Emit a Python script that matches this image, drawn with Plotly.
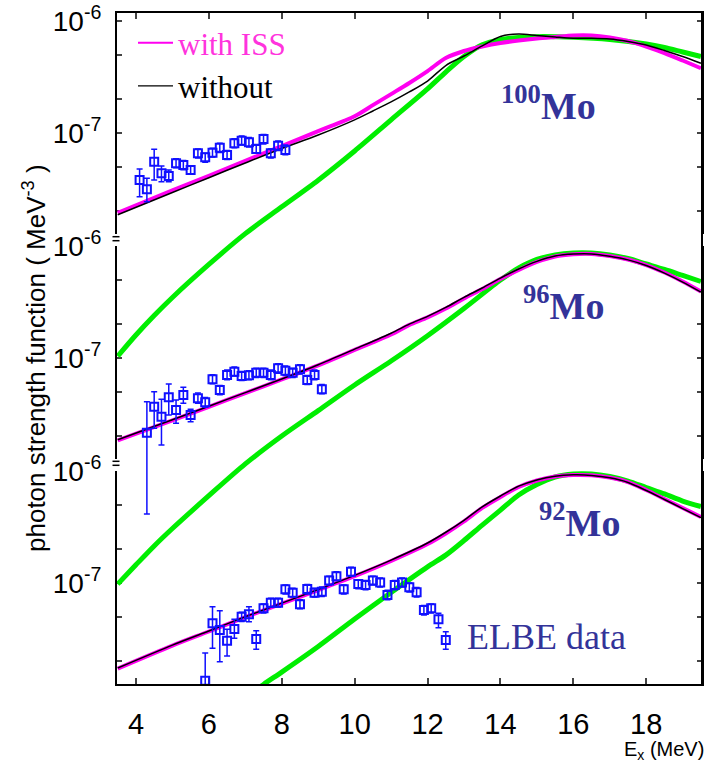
import plotly.graph_objects as go

# ------------------------------------------------------------------ data
# 100Mo (top panel)
E_curve_100 = [3.5, 5, 6, 7, 8, 9, 10, 10.5, 11, 11.5, 12, 12.5, 13, 13.5, 14, 14.5,
               15, 15.5, 16, 16.5, 17, 17.5, 18, 18.5, 19, 19.5]
S_iss_100 = [1.94e-8, 3.08e-8, 4.16e-8, 5.65e-8, 7.66e-8, 1.04e-7, 1.41e-7, 1.77e-7, 2.22e-7,
             2.79e-7, 3.56e-7, 4.65e-7, 5.37e-7, 5.89e-7, 6.33e-7, 6.66e-7, 6.94e-7, 7.16e-7,
             7.38e-7, 7.38e-7, 7.08e-7, 6.59e-7, 5.89e-7, 5.15e-7, 4.42e-7, 3.77e-7]
S_wo_100 = [1.87e-8, 2.95e-8, 4.0e-8, 5.41e-8, 7.28e-8, 9.6e-8, 1.31e-7, 1.57e-7, 1.89e-7,
            2.32e-7, 2.90e-7, 3.99e-7, 4.85e-7, 5.96e-7, 7.23e-7, 7.61e-7, 7.38e-7, 7.16e-7,
            6.97e-7, 6.97e-7, 6.87e-7, 6.53e-7, 6.08e-7, 5.43e-7, 4.80e-7, 4.18e-7]
E_green_100 = [3.5, 4, 4.5, 5, 6, 7, 8, 9, 10, 11, 12, 12.5, 13, 13.5, 14, 14.5, 15, 16, 17,
               18, 18.5, 19, 19.5]
S_green_100 = [1.03e-9, 1.59e-9, 2.37e-9, 3.43e-9, 6.75e-9, 1.27e-8, 2.20e-8, 3.80e-8, 6.92e-8,
               1.31e-7, 2.47e-7, 3.49e-7, 4.80e-7, 6.11e-7, 6.79e-7, 7.08e-7, 7.21e-7, 7.12e-7,
               6.81e-7, 6.21e-7, 5.77e-7, 5.26e-7, 4.80e-7]
E_data_100 = [4.1, 4.3, 4.5, 4.7, 4.9, 5.1, 5.3, 5.5, 5.7, 5.9, 6.1, 6.3, 6.5, 6.7, 6.9, 7.1,
              7.3, 7.5, 7.7, 7.9, 8.1]
S_data_100 = [3.81e-8, 3.15e-8, 5.55e-8, 4.38e-8, 4.14e-8, 5.37e-8, 5.19e-8, 4.68e-8, 6.59e-8,
              6.07e-8, 6.68e-8, 7.39e-8, 6.37e-8, 8.09e-8, 8.54e-8, 8.26e-8, 7.20e-8, 8.84e-8,
              6.59e-8, 7.70e-8, 7.06e-8]
S_hi_100 = [4.78e-8, 3.95e-8, 7.16e-8, 5.08e-8, 4.68e-8, 5.9e-8, 5.7e-8, 5.1e-8, 7.2e-8, 6.6e-8,
            7.3e-8, 8.1e-8, 7.0e-8, 8.9e-8, 9.4e-8, 9.1e-8, 7.9e-8, 9.7e-8, 7.2e-8, 8.5e-8, 7.8e-8]
S_lo_100 = [2.71e-8, 2.44e-8, 3.81e-8, 3.68e-8, 3.68e-8, 4.9e-8, 4.7e-8, 4.3e-8, 6.0e-8, 5.5e-8,
            6.1e-8, 6.7e-8, 5.8e-8, 7.4e-8, 7.8e-8, 7.5e-8, 6.6e-8, 8.0e-8, 6.0e-8, 7.0e-8, 6.4e-8]

# 96Mo (middle panel)
E_curve_96 = [3.5, 5, 6, 7, 8, 9, 10, 11, 11.5, 12, 12.5, 13, 13.5, 14, 14.5, 15, 15.5, 16,
              16.5, 17, 17.5, 18, 18.5, 19, 19.5]
S_iss_96 = [1.85e-8, 2.79e-8, 3.68e-8, 4.87e-8, 6.44e-8, 8.6e-8, 1.18e-7, 1.62e-7, 1.97e-7,
            2.30e-7, 2.76e-7, 3.39e-7, 4.11e-7, 5.05e-7, 6.08e-7, 7.16e-7, 8.01e-7, 8.38e-7,
            8.44e-7, 8.09e-7, 7.54e-7, 6.73e-7, 5.77e-7, 4.80e-7, 3.91e-7]
S_wo_96 = [1.87e-8, 2.82e-8, 3.72e-8, 4.92e-8, 6.5e-8, 8.7e-8, 1.2e-7, 1.66e-7, 2.0e-7, 2.35e-7,
           2.82e-7, 3.47e-7, 4.2e-7, 5.15e-7, 6.2e-7, 7.25e-7, 8.08e-7, 8.42e-7, 8.44e-7, 8.05e-7,
           7.48e-7, 6.66e-7, 5.70e-7, 4.74e-7, 3.86e-7]
E_green_96 = [3.5, 4, 4.5, 5, 6, 7, 8, 9, 10, 11, 12, 13, 14, 14.5, 15, 15.5, 16, 16.5, 17,
              17.5, 18, 18.5, 19, 19.5]
S_green_96 = [9.7e-10, 1.44e-9, 2.12e-9, 3.03e-9, 5.94e-9, 1.14e-8, 2.02e-8, 3.40e-8, 5.75e-8,
              9.40e-8, 1.58e-7, 2.76e-7, 4.95e-7, 6.33e-7, 7.54e-7, 8.26e-7, 8.61e-7, 8.61e-7,
              8.26e-7, 7.69e-7, 6.87e-7, 6.14e-7, 5.43e-7, 4.80e-7]
E_data_96 = [4.3, 4.5, 4.7, 4.9, 5.1, 5.3, 5.5, 5.7, 5.9, 6.1, 6.3, 6.5, 6.7, 6.9, 7.1, 7.3,
             7.5, 7.7, 7.9, 8.1, 8.3, 8.5, 8.7, 8.9, 9.1]
S_data_96 = [2.16e-8, 3.68e-8, 3.00e-8, 4.47e-8, 3.44e-8, 4.68e-8, 3.11e-8, 4.38e-8, 4.03e-8,
             6.46e-8, 5.19e-8, 7.06e-8, 7.55e-8, 6.91e-8, 7.02e-8, 7.39e-8, 7.39e-8, 7.06e-8,
             8.09e-8, 7.70e-8, 7.39e-8, 7.93e-8, 6.37e-8, 7.06e-8, 5.26e-8]
S_hi_96 = [4.08e-8, 5.01e-8, 4.29e-8, 5.87e-8, 4.23e-8, 5.48e-8, 3.49e-8, 4.88e-8, 4.45e-8,
           7.1e-8, 5.7e-8, 7.8e-8, 8.3e-8, 7.6e-8, 7.7e-8, 8.1e-8, 8.1e-8, 7.8e-8, 8.9e-8,
           8.5e-8, 8.1e-8, 8.7e-8, 7.0e-8, 7.8e-8, 5.8e-8]
S_lo_96 = [4.08e-9, 2.37e-8, 1.68e-8, 3.11e-8, 2.62e-8, 3.95e-8, 2.71e-8, 3.95e-8, 3.65e-8,
           5.9e-8, 4.7e-8, 6.4e-8, 6.9e-8, 6.3e-8, 6.4e-8, 6.7e-8, 6.7e-8, 6.4e-8, 7.3e-8,
           7.0e-8, 6.7e-8, 7.2e-8, 5.8e-8, 6.4e-8, 4.8e-8]

# 92Mo (bottom panel)
E_curve_92 = [3.5, 5, 6, 7, 8, 9, 10, 11, 12, 12.5, 13, 13.5, 14, 14.5, 15, 15.5, 16, 16.5,
              17, 17.5, 18, 18.5, 19, 19.5]
S_iss_92 = [1.73e-8, 2.77e-8, 3.70e-8, 4.96e-8, 6.56e-8, 8.65e-8, 1.15e-7, 1.57e-7, 2.22e-7,
            2.76e-7, 3.53e-7, 4.66e-7, 5.83e-7, 7.16e-7, 8.18e-7, 8.88e-7, 9.16e-7, 9.10e-7,
            8.69e-7, 7.92e-7, 6.73e-7, 5.60e-7, 4.66e-7, 3.87e-7]
S_wo_92 = [1.75e-8, 2.8e-8, 3.74e-8, 5.0e-8, 6.62e-8, 8.75e-8, 1.17e-7, 1.6e-7, 2.27e-7,
           2.83e-7, 3.62e-7, 4.76e-7, 5.95e-7, 7.28e-7, 8.28e-7, 8.94e-7, 9.18e-7, 9.08e-7,
           8.64e-7, 7.86e-7, 6.66e-7, 5.54e-7, 4.60e-7, 3.82e-7]
E_green_92 = [7, 7.5, 8, 9, 10, 11, 12, 12.5, 13, 13.5, 14, 14.5, 15, 15.5, 16, 16.5, 17, 17.5,
              18, 18.5, 19, 19.5]
S_green_92 = [9.46e-9, 1.25e-8, 1.61e-8, 2.72e-8, 4.78e-8, 8.22e-8, 1.39e-7, 1.77e-7, 2.39e-7,
              3.28e-7, 4.46e-7, 6.08e-7, 7.54e-7, 8.79e-7, 9.35e-7, 9.35e-7, 8.88e-7, 8.09e-7,
              7.08e-7, 6.21e-7, 5.37e-7, 4.80e-7]
E_data_92 = [5.9, 6.1, 6.3, 6.5, 6.7, 6.9, 7.1, 7.3, 7.5, 7.7, 7.9, 8.1, 8.3, 8.5, 8.7, 8.9,
             9.1, 9.3, 9.5, 9.7, 9.9, 10.1, 10.3, 10.5, 10.7, 10.9, 11.1, 11.3, 11.5, 11.7,
             11.9, 12.1, 12.3, 12.5]
S_data_92 = [1.35e-8, 4.38e-8, 3.81e-8, 3.06e-8, 3.89e-8, 5.01e-8, 5.26e-8, 3.17e-8, 5.95e-8,
             6.68e-8, 6.68e-8, 8.79e-8, 8.19e-8, 6.46e-8, 8.84e-8, 8.19e-8, 8.37e-8, 1.05e-7,
             1.15e-7, 8.79e-8, 1.26e-7, 9.80e-8, 9.60e-8, 1.05e-7, 1.01e-7, 7.82e-8, 9.60e-8,
             1.01e-7, 9.15e-8, 8.26e-8, 5.75e-8, 5.95e-8, 4.75e-8, 3.11e-8]
S_hi_92 = [2.38e-8, 6.15e-8, 5.66e-8, 3.87e-8, 4.75e-8, 5.5e-8, 6.15e-8, 3.76e-8, 6.5e-8,
           7.3e-8, 7.3e-8, 9.6e-8, 9.0e-8, 7.1e-8, 9.7e-8, 9.0e-8, 9.2e-8, 1.15e-7, 1.26e-7,
           9.6e-8, 1.38e-7, 1.07e-7, 1.05e-7, 1.15e-7, 1.11e-7, 8.6e-8, 1.05e-7, 1.11e-7,
           1.0e-7, 9.1e-8, 6.3e-8, 6.5e-8, 5.37e-8, 3.68e-8]
S_lo_92 = [7.6e-9, 2.62e-8, 1.99e-8, 2.24e-8, 3.22e-8, 4.55e-8, 4.52e-8, 2.57e-8, 5.4e-8,
           6.1e-8, 6.1e-8, 8.0e-8, 7.5e-8, 5.9e-8, 8.0e-8, 7.5e-8, 7.6e-8, 9.6e-8, 1.05e-7,
           8.0e-8, 1.15e-7, 8.9e-8, 8.7e-8, 9.6e-8, 9.2e-8, 7.1e-8, 8.7e-8, 9.2e-8, 8.3e-8,
           7.5e-8, 5.2e-8, 5.4e-8, 4.0e-8, 2.57e-8]

X_TICKS = [4, 6, 8, 10, 12, 14, 16, 18]
Y_TICKVALS = [2e-8, 5e-8, 1e-7, 2e-7, 5e-7, 1e-6]
Y_TICKTEXT = ["", "", "10<sup>-7</sup>", "", "", "10<sup>-6</sup>"]

# ------------------------------------------------------------------ geometry (pixels)
W, H = 717, 764
L, R, T, B = 117, 702, 13, 684
PW, PH = R - L, B - T
PPD = 112.3            # pixels per decade


def fx(px):
    return (px - L) / PW


def fy(py):
    return (B - py) / PH


MAGENTA = "#ff00f0"
GREEN = "#00ee00"
BLUE = "#1010ff"
LABEL = "#333399"

fig = go.Figure()

panels = [
    (E_curve_100, S_iss_100, S_wo_100, E_green_100, S_green_100,
     E_data_100, S_data_100, S_hi_100, S_lo_100, "y4", 20.7, 13),
    (E_curve_96, S_iss_96, S_wo_96, E_green_96, S_green_96,
     E_data_96, S_data_96, S_hi_96, S_lo_96, "y5", 245.7, 238),
    (E_curve_92, S_iss_92, S_wo_92, E_green_92, S_green_92,
     E_data_92, S_data_92, S_hi_92, S_lo_92, "y6", 470.7, 463),
]

# empty traces so that the frame axes (one per panel, plus the top x axis) get drawn
for xa, ya in (("x", "y"), ("x", "y2"), ("x", "y3"), ("x2", "y")):
    fig.add_trace(go.Scatter(x=[None], y=[None], xaxis=xa, yaxis=ya, mode="lines",
                             showlegend=False, hoverinfo="skip"))

for ec, si, sw, eg, sg, ed, sd, hi, lo, ya, _, _ in panels:
    fig.add_trace(go.Scatter(x=eg, y=sg, xaxis="x", yaxis=ya, mode="lines",
                             line=dict(color=GREEN, width=5, shape="spline", smoothing=0.8),
                             showlegend=False, hoverinfo="skip"))
for ec, si, sw, eg, sg, ed, sd, hi, lo, ya, _, _ in panels:
    fig.add_trace(go.Scatter(x=ec, y=si, xaxis="x", yaxis=ya, mode="lines",
                             line=dict(color=MAGENTA, width=4, shape="spline", smoothing=0.8),
                             showlegend=False))
for ec, si, sw, eg, sg, ed, sd, hi, lo, ya, _, _ in panels:
    fig.add_trace(go.Scatter(x=ec, y=sw, xaxis="x", yaxis=ya, mode="lines",
                             line=dict(color="black", width=1.5, shape="spline", smoothing=0.8),
                             showlegend=False))
for ec, si, sw, eg, sg, ed, sd, hi, lo, ya, _, _ in panels:
    fig.add_trace(go.Scatter(
        x=ed, y=sd, xaxis="x", yaxis=ya, mode="markers", showlegend=False,
        marker=dict(symbol="square-open", size=8, color=BLUE, line=dict(width=2, color=BLUE)),
        error_y=dict(type="data", symmetric=False,
                     array=[h - v for h, v in zip(hi, sd)],
                     arrayminus=[v - l for l, v in zip(lo, sd)],
                     color=BLUE, thickness=1.5, width=3)))

# legend entries (thin sample lines as in the reference key)
fig.add_trace(go.Scatter(x=[None], y=[None], xaxis="x", yaxis="y4", mode="lines",
                         line=dict(color=MAGENTA, width=2),
                         name='<span style="color:#ff33dd">with ISS</span>'))
fig.add_trace(go.Scatter(x=[None], y=[None], xaxis="x", yaxis="y4", mode="lines",
                         line=dict(color="black", width=1.2), name="without"))

layout = dict(
    width=W, height=H,
    margin=dict(l=L, r=W - R, t=T, b=H - B, pad=0, autoexpand=False),
    paper_bgcolor="white", plot_bgcolor="rgba(0,0,0,0)",
    font=dict(family="Arial, Liberation Sans, sans-serif", color="black"),
    showlegend=True,
    legend=dict(x=fx(133), y=fy(16), xanchor="left", yanchor="top",
                bgcolor="rgba(0,0,0,0)", borderwidth=0, traceorder="normal",
                font=dict(family="Liberation Serif, Times New Roman, serif", size=31,
                          color="black"),
                itemwidth=35, tracegroupgap=0),
    xaxis=dict(range=[3.48, 19.53], anchor="y3", tickvals=X_TICKS, ticks="inside",
               ticklen=6, tickwidth=1.5, showline=True, linewidth=2, linecolor="black",
               showgrid=False, zeroline=False, tickfont=dict(size=29),
               ticklabelstandoff=13, automargin=False),
    xaxis2=dict(range=[3.48, 19.53], overlaying="x", side="top", anchor="y",
                tickvals=X_TICKS, ticks="inside", ticklen=6, tickwidth=1.5,
                showline=True, linewidth=2, linecolor="black", showticklabels=False,
                showgrid=False, zeroline=False, automargin=False),
)

# visible axes (one per panel, with the broken left axis)
vis = [(13, 234, 20.7), (245.7, 459, 245.7), (470.7, B, 470.7)]
for k, (ptop, pbot, y6) in enumerate(vis):
    name = "yaxis" if k == 0 else f"yaxis{k + 1}"
    layout[name] = dict(
        type="log", anchor="x", domain=[fy(pbot), fy(ptop)],
        range=[-6 - (pbot - y6) / PPD, -6 + (y6 - ptop) / PPD],
        tickvals=Y_TICKVALS, ticktext=Y_TICKTEXT, ticks="inside", ticklen=5,
        tickwidth=1.5, showline=True, linewidth=2, linecolor="black", mirror="ticks",
        showgrid=False, zeroline=False, tickfont=dict(size=28), ticklabelstandoff=8,
        automargin=False)

# data axes (same scale, extended downwards so curves are not clipped at panel bounds)
for k, p in enumerate(panels):
    y6, ptop = p[10], p[11]
    layout[f"yaxis{k + 4}"] = dict(
        type="log", anchor="x", visible=False, domain=[0, fy(ptop)],
        range=[-6 - (B - y6) / PPD, -6 + (y6 - ptop) / PPD],
        showgrid=False, zeroline=False, automargin=False)

shapes = [dict(type="line", xref="paper", yref="paper", x0=1, x1=1, y0=0, y1=1,
               line=dict(color="black", width=2))]
for yb in (236.7, 240.7, 461.3, 465.3):
    shapes.append(dict(type="line", xref="paper", yref="paper", x0=fx(112.5), x1=fx(119.5),
                       y0=fy(yb), y1=fy(yb), line=dict(color="black", width=1.5)))
layout["shapes"] = shapes

serif = "Liberation Serif, Times New Roman, serif"
ann = [
    dict(text="<b><sup>100</sup>Mo</b>", x=fx(548), y=fy(103), font=dict(family=serif, size=38, color=LABEL)),
    dict(text="<b><sup>96</sup>Mo</b>", x=fx(563), y=fy(303), font=dict(family=serif, size=38, color=LABEL)),
    dict(text="<b><sup>92</sup>Mo</b>", x=fx(579), y=fy(520), font=dict(family=serif, size=38, color=LABEL)),
    dict(text="ELBE data", x=fx(546), y=fy(637), font=dict(family=serif, size=36, color=LABEL)),
    dict(text="photon strength function ( MeV<sup>-3</sup> )", x=fx(34), y=fy(358),
         textangle=-90, font=dict(size=26, color="black")),
    dict(text="E<sub>x</sub> (MeV)", x=fx(706), y=fy(750), xanchor="right",
         font=dict(size=20, color="black")),
]
for a in ann:
    a.update(xref="paper", yref="paper", showarrow=False)
    a.setdefault("xanchor", "center")
    a.setdefault("yanchor", "middle")
layout["annotations"] = ann

fig.update_layout(**layout)
fig.write_html("out.html")
